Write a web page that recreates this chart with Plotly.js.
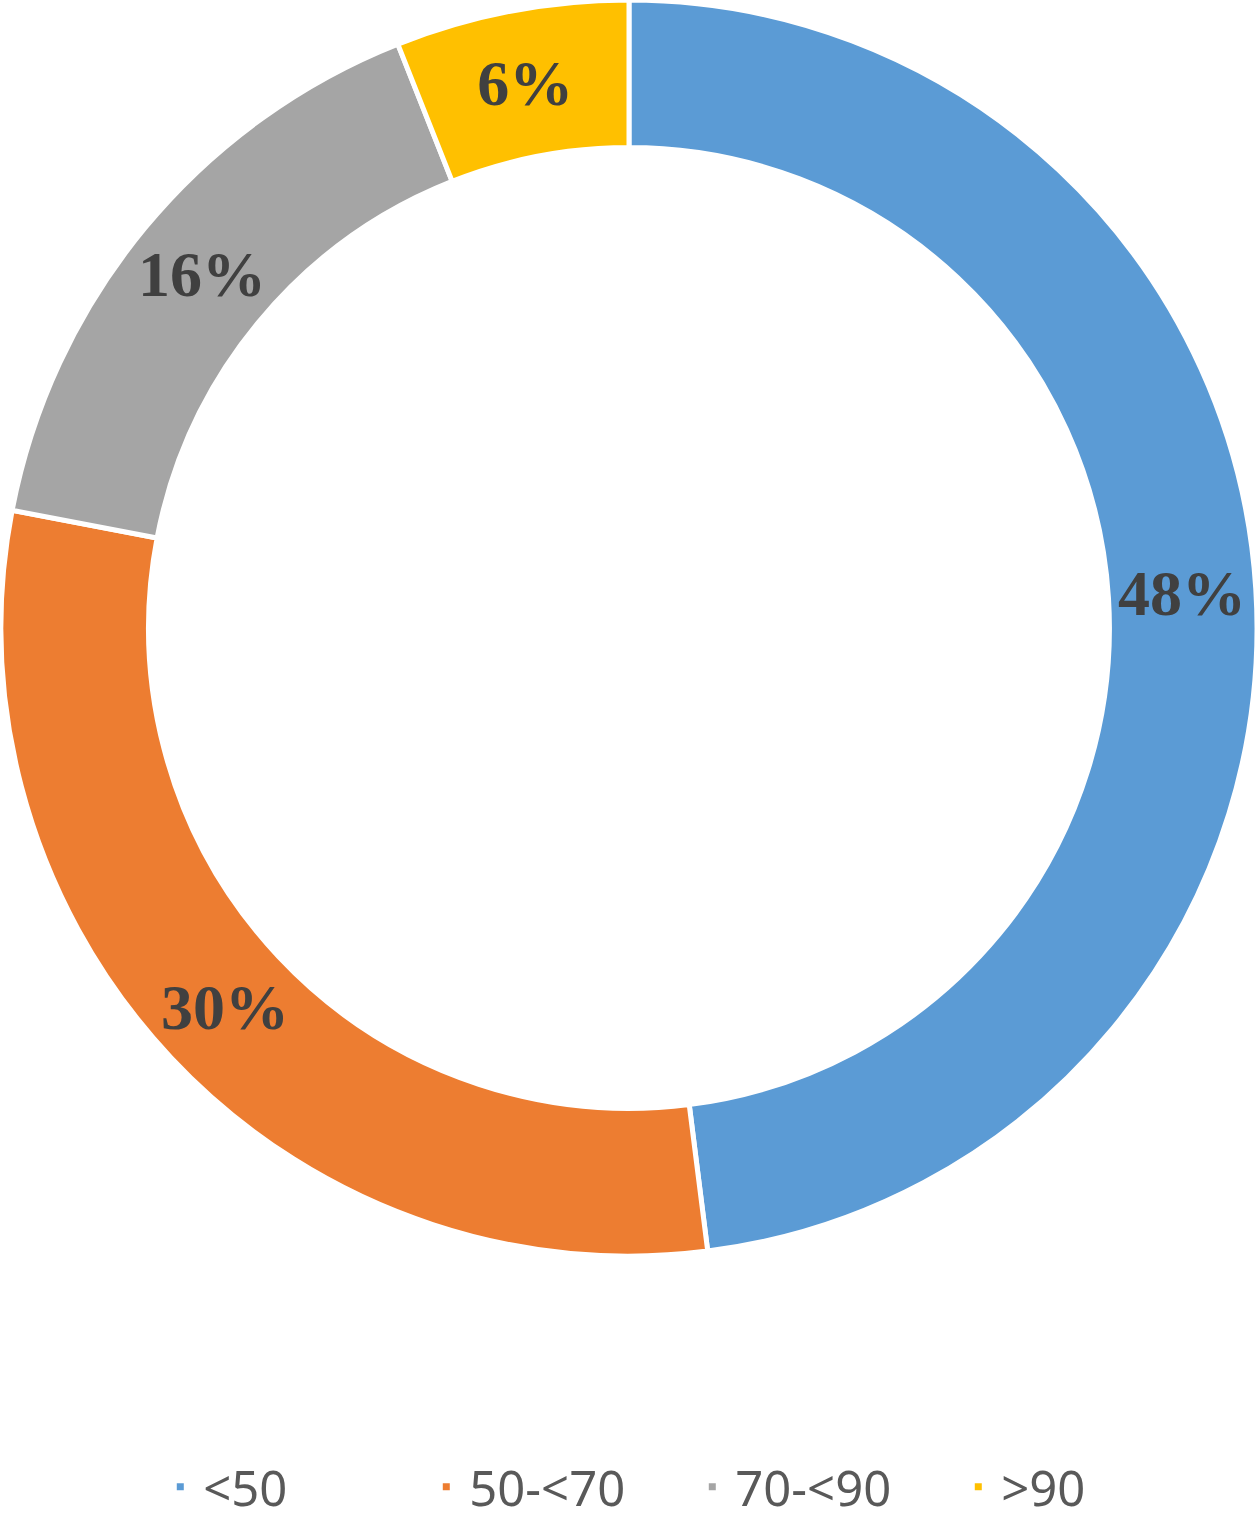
<!DOCTYPE html>
<html>
<head>
<meta charset="utf-8">
<script src="https://cdn.plot.ly/plotly-3.0.1.min.js"></script>
<style>html,body{margin:0;padding:0;background:#fff;}#chart{width:1258px;height:1523px;}</style>
</head>
<body>
<div id="chart"></div>
<script>
const categories = ["<50", "50-<70", "70-<90", ">90"];
const shares = [48, 30, 16, 6];
const colors = ["#5B9BD5", "#ED7D31", "#A5A5A5", "#FFC000"];

const W = 1258, H = 1523;
const mt = 0, mb = 0;
const plotH = H - mt - mb;
const diam = 1256;

const trace = {
  type: "pie",
  labels: categories,
  values: shares,
  hole: 0.765,
  sort: false,
  direction: "clockwise",
  rotation: 0,
  marker: {colors: colors, line: {color: "#ffffff", width: 5}},
  texttemplate: "%{value}%",
  textposition: "inside",
  insidetextorientation: "horizontal",
  textfont: {family: "Liberation Serif", size: 64, color: "#404040", weight: "bold"},
  domain: {x: [0, 1], y: [1 - diam / plotH, 1]},
  hoverinfo: "label+percent"
};

const layout = {
  width: W, height: H,
  margin: {l: 1, r: 1, t: mt, b: mb, autoexpand: false},
  paper_bgcolor: "#ffffff",
  showlegend: true,
  legend: {
    orientation: "h", x: 0.548, xanchor: "center", y: 36 / plotH, yanchor: "middle",
    font: {family: "Noto Sans, Open Sans, sans-serif", size: 49, color: "#595959"},
    traceorder: "normal", itemwidth: 36,
    entrywidth: 215, entrywidthmode: "pixels"
  }
};

Plotly.newPlot("chart", [trace], layout, {displayModeBar: false, staticPlot: true});
</script>
</body>
</html>
